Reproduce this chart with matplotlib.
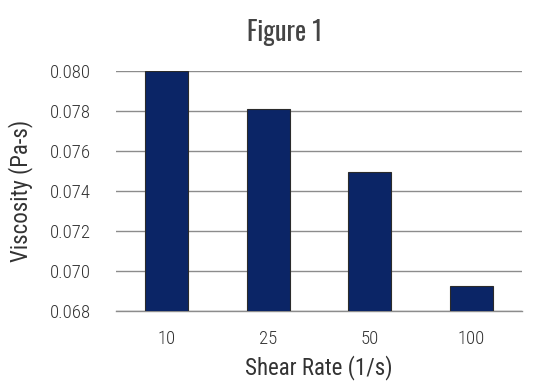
import matplotlib
matplotlib.use("Agg")
import matplotlib.pyplot as plt

# chart data
shear_rates = ["10", "25", "50", "100"]
viscosity = [0.0800, 0.07808, 0.07497, 0.06927]
y_ticks = [0.068, 0.070, 0.072, 0.074, 0.076, 0.078, 0.080]

plt.rcParams["font.family"] = ["Roboto Condensed", "DejaVu Sans"]
plt.rcParams["font.weight"] = "light"

text_color = "#333333"
bar_color = "#0b2566"
grid_color = "#8c8c8c"

fig = plt.figure(figsize=(5.49, 3.81), dpi=100)
ax = fig.add_axes([116 / 549, 1 - 311 / 381, (522 - 116) / 549, 240 / 381])

ax.bar(range(len(shear_rates)), viscosity, width=0.42, color=bar_color,
       edgecolor="#2b2b2b", linewidth=0.8, zorder=3)

ax.set_xlim(-0.5, len(shear_rates) - 0.5)
ax.set_ylim(0.068, 0.080)
ax.set_yticks(y_ticks)
ax.set_yticklabels(["%.3f" % t for t in y_ticks])
ax.set_xticks(range(len(shear_rates)))
ax.set_xticklabels(shear_rates)

ax.yaxis.grid(True, color=grid_color, linewidth=1.0, zorder=0)
for s in ["top", "right", "left"]:
    ax.spines[s].set_visible(False)
ax.spines["bottom"].set_color(grid_color)
ax.spines["bottom"].set_linewidth(1.0)
ax.tick_params(axis="both", length=0, labelsize=13.5, colors=text_color)
ax.tick_params(axis="y", pad=18)
ax.tick_params(axis="x", pad=14)

ax.set_xlabel("Shear Rate (1/s)", fontsize=16.5, color=text_color, labelpad=5)
ax.set_ylabel("Viscosity (Pa-s)", fontsize=16.5, color=text_color, labelpad=12)
fig.text(285 / 549, 1 - 32 / 381, "Figure 1", ha="center", va="center",
         fontsize=19, fontweight="bold", color="#444444",
         family=["Oswald", "DejaVu Sans"])

fig.savefig("out.png", dpi=100)
